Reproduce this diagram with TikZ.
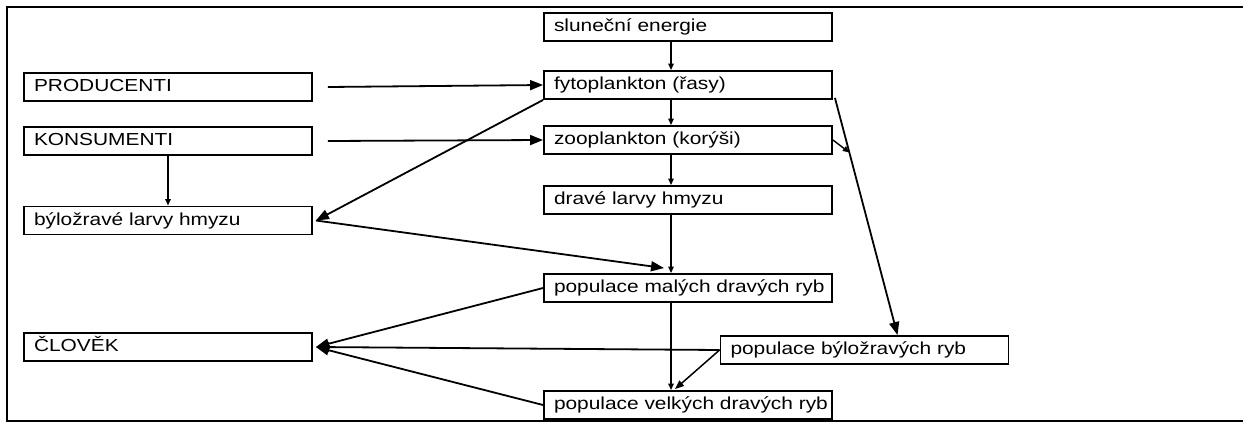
\documentclass[tikz,border=0pt]{standalone}
\usepackage{fontspec}
\setmainfont{Liberation Sans}[FakeStretch=1.2]
\usetikzlibrary{arrows.meta,calc}
\tikzset{box/.style={draw, line width=1.9pt, minimum width=288pt, minimum height=28pt,
    text width=282pt, align=left, inner xsep=3pt, text height=13pt, text depth=3.5pt,
    execute at begin node={\hspace*{7pt}\mbox\bgroup}, execute at end node=\egroup,
    font=\fontsize{17.4}{20}\selectfont},
  big/.style={line width=1.8pt, -{Triangle[length=13pt,width=10pt]}},
  mid/.style={line width=1.5pt, -{Triangle[length=9pt,width=7pt]}},
  small/.style={line width=1.4pt, -{Triangle[length=6.5pt,width=5.5pt]}},
}

\begin{document}
\begin{tikzpicture}[x=1pt,y=-1pt]
\useasboundingbox (0,0) rectangle (1246,423);
% frame, open on the right
\draw[line width=2.2pt] (1243,7) -- (7,7) -- (7,421) -- (1243,421);

% food chain
\node[box] (sun) at (688,27) {slunečn\'i energie};
\node[box] (fyto) at (688,85) {fytoplankton (řasy)};
\node[box] (zoo) at (688,140) {zooplankton (kor\'yši)};
\node[box] (drave) at (688,200) {drav\'e larvy hmyzu};
\node[box] (male) at (688,288) {populace mal\'ych drav\'ych ryb};
\node[box] (velke) at (688,405) {populace velk\'ych drav\'ych ryb};
\node[box] (bylryby) at (864.5,350) {populace b\'yložrav\'ych ryb};

\node[box] (prod) at (168,87) {PRODUCENTI};
\node[box] (kons) at (168,141) {KONSUMENTI};
\node[box] (larvy) at (168,220.5) {b\'yložrav\'e larvy hmyzu};
\node[box] (clovek) at (168,347) {ČLOVĚK};

\draw[small] ([xshift=-17pt]sun.south) -- ([xshift=-17pt]fyto.north);
\draw[small] ([xshift=-17pt]fyto.south) -- ([xshift=-17pt]zoo.north);
\draw[small] ([xshift=-17pt]zoo.south) -- ([xshift=-17pt]drave.north);
\draw[small] ([xshift=-17pt]drave.south) -- ([xshift=-17pt]male.north);
\draw[small] ([xshift=-17pt]male.south) -- ([xshift=-17pt]velke.north);
\draw[small] (kons.south) -- (larvy.north);

\draw[big] ([xshift=15pt]prod.east) -- (fyto.west);
\draw[big] ([xshift=15pt]kons.east) -- (zoo.west);
\draw[big] (fyto.south west) -- ([xshift=3pt]larvy.east);
\draw[big] ([xshift=3pt]larvy.east) -- ([xshift=-24pt,yshift=5pt]male.north);

\draw[big] (male.west) -- ([xshift=3pt]clovek.east);
\draw[big] (bylryby.west) -- ([xshift=3pt]clovek.east);
\draw[big] (velke.west) -- ([xshift=3pt]clovek.east);
\draw[mid] (bylryby.west) -- ([xshift=-13pt,yshift=1pt]velke.north);

\coordinate (fytoout) at ([xshift=2pt,yshift=2pt]fyto.south east);
\draw[big] (fytoout) -- ([xshift=33pt]bylryby.north);
\draw[small] (zoo.east) -- ($(fytoout)!0.23!([xshift=33pt]bylryby.north)$);
\end{tikzpicture}
\end{document}
